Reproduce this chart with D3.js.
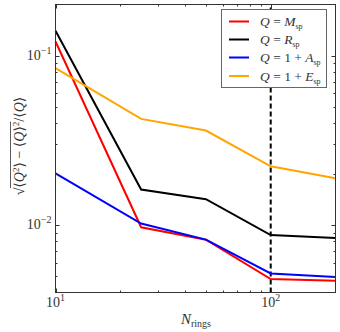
<!DOCTYPE html>
<html><head><meta charset="utf-8">
<script src="https://cdn.jsdelivr.net/npm/d3@7"></script>
<style>body{margin:0;background:#fff}svg{display:block}</style>
</head><body>
<svg id="c" width="340" height="332"></svg>
<script>
const nRings = [10, 25, 50, 100, 200];
const seriesNames = ["M", "R", "1A", "1E"];
const valM = [0.121, 0.0097, 0.0082, 0.0048, 0.00469];
const valR = [0.140, 0.0162, 0.0142, 0.00873, 0.00839];
const valA = [0.0202, 0.0102, 0.0082, 0.00518, 0.00494];
const valE = [0.0843, 0.0423, 0.0361, 0.0222, 0.0189];
const colors = ["#ff0000", "#000000", "#0000ff", "#ffa500"];
const xTicks = [10, 100];
const yTicks = [0.01, 0.1];
const markerX = 100;

const svg = d3.select("#c");
const L = 55.5, R = 335.5, T = 4.5, B = 292.5;
const x = d3.scaleLog().domain([10, 200]).range([L, R]);
const y = d3.scaleLog().domain([0.004, 0.2]).range([B, T]);
const font = "'Liberation Serif', 'DejaVu Serif', serif";
const textCol = "#333";

// dashed line
svg.append("line").attr("x1", x(markerX)).attr("x2", x(markerX)).attr("y1", B).attr("y2", T)
  .attr("stroke", "#000").attr("stroke-width", 2).attr("stroke-dasharray", "5,3");

const line = d3.line().x((d, i) => x(nRings[i])).y(d => y(d));
[valM, valR, valA, valE].forEach((vals, k) => {
  svg.append("path").datum(vals).attr("d", line).attr("fill", "none")
    .attr("stroke", colors[k]).attr("stroke-width", 2);
});

// frame
svg.append("rect").attr("x", L).attr("y", T).attr("width", R - L).attr("height", B - T)
  .attr("fill", "none").attr("stroke", "#333").attr("stroke-width", 1);

// ticks
const xMinor = [20,30,40,50,60,70,80,90];
const yMinor = [];
for (let d = 0.001; d < 1; d *= 10) for (let m = 2; m <= 9; m++) { const v = m * d; if (v > 0.004 && v < 0.2) yMinor.push(v); }
const tk = svg.append("g").attr("stroke", "#333").attr("stroke-width", 1);
xTicks.forEach(v => { const px = Math.round(x(v)) + 0.5;
  tk.append("line").attr("x1", px).attr("x2", px).attr("y1", B).attr("y2", B - 4);
  tk.append("line").attr("x1", px).attr("x2", px).attr("y1", T).attr("y2", T + 4); });
xMinor.forEach(v => { const px = Math.round(x(v)) + 0.5;
  tk.append("line").attr("x1", px).attr("x2", px).attr("y1", B).attr("y2", B - 2);
  tk.append("line").attr("x1", px).attr("x2", px).attr("y1", T).attr("y2", T + 2); });
yTicks.forEach(v => { const py = Math.round(y(v)) + 0.5;
  tk.append("line").attr("x1", L).attr("x2", L + 4).attr("y1", py).attr("y2", py);
  tk.append("line").attr("x1", R).attr("x2", R - 4).attr("y1", py).attr("y2", py); });
yMinor.forEach(v => { const py = Math.round(y(v)) + 0.5;
  tk.append("line").attr("x1", L).attr("x2", L + 2).attr("y1", py).attr("y2", py);
  tk.append("line").attr("x1", R).attr("x2", R - 2).attr("y1", py).attr("y2", py); });

// tick labels
xTicks.forEach(v => {
  const t = svg.append("text").attr("x", x(v)).attr("y", 307).attr("text-anchor", "middle")
    .attr("font-family", font).attr("font-size", 14).attr("fill", textCol);
  t.append("tspan").text("10");
  t.append("tspan").attr("dy", -6).attr("font-size", 10).text(Math.round(Math.log10(v)));
});
yTicks.forEach(v => {
  const t = svg.append("text").attr("x", 51.5).attr("y", y(v) + 4).attr("text-anchor", "end")
    .attr("font-family", font).attr("font-size", 14).attr("fill", textCol);
  t.append("tspan").text("10");
  t.append("tspan").attr("dy", -6).attr("font-size", 10).text("\u2212" + Math.abs(Math.round(Math.log10(v))));
});

// x label
const xl = svg.append("text").attr("x", 196).attr("y", 324).attr("text-anchor", "middle")
  .attr("font-family", font).attr("font-size", 15).attr("fill", textCol);
xl.append("tspan").attr("font-style", "italic").text("N");
xl.append("tspan").attr("dy", 3).attr("font-size", 10).text("rings");

// y label (sqrt expression)
const yg = svg.append("g").attr("transform", "translate(23.5,146) rotate(-90)");
const yt = yg.append("text").attr("x", 0).attr("y", 0).attr("text-anchor", "middle")
  .attr("font-family", font).attr("font-size", 14).attr("fill", textCol);
yt.append("tspan").text("\u221A");
const inner = yt.append("tspan");
inner.append("tspan").text("\u27E8");
inner.append("tspan").attr("font-style", "italic").text("Q");
inner.append("tspan").attr("dy", -5).attr("font-size", 9).text("2");
inner.append("tspan").attr("dy", 5).text("\u27E9 \u2212 \u27E8");
inner.append("tspan").attr("font-style", "italic").text("Q");
inner.append("tspan").text("\u27E9");
inner.append("tspan").attr("dy", -5).attr("font-size", 9).text("2");
const rest = yt.append("tspan").attr("dy", 5);
rest.append("tspan").text("/\u27E8");
rest.append("tspan").attr("font-style", "italic").text("Q");
rest.append("tspan").text("\u27E9");
// overline over the radicand
try {
  const n = yt.node();
  const full = n.getComputedTextLength();
  const start = -full / 2;
  const sqrtW = n.getSubStringLength(0, 1);
  const radLen = n.getSubStringLength(1, "⟨Q2⟩ − ⟨Q⟩2".length);
  yg.append("line").attr("x1", start + sqrtW - 0.5).attr("x2", start + sqrtW + radLen)
    .attr("y1", -13).attr("y2", -13).attr("stroke", textCol).attr("stroke-width", 0.8);
} catch (e) {}

// legend
const lg = svg.append("g");
lg.append("rect").attr("x", 221.5).attr("y", 9.5).attr("width", 105).attr("height", 78)
  .attr("fill", "#fff").attr("stroke", "#666").attr("stroke-width", 1);
const labels = [["M"], ["R"], ["1 + ", "A"], ["1 + ", "E"]];
const rowsY = [21.5, 39.5, 57.5, 76];
seriesNames.forEach((nm, i) => {
  lg.append("line").attr("x1", 229).attr("x2", 249).attr("y1", rowsY[i]).attr("y2", rowsY[i])
    .attr("stroke", colors[i]).attr("stroke-width", 2);
  const t = lg.append("text").attr("x", 260).attr("y", rowsY[i] + 4.5)
    .attr("font-family", font).attr("font-size", 13.5).attr("fill", textCol);
  t.append("tspan").attr("font-style", "italic").text("Q");
  t.append("tspan").text(" = ");
  const lab = labels[i];
  if (lab.length === 2) t.append("tspan").text(lab[0]);
  t.append("tspan").attr("font-style", "italic").text(lab[lab.length - 1]);
  t.append("tspan").attr("dy", 3).attr("font-size", 8).text("sp");
});
</script>
</body></html>
